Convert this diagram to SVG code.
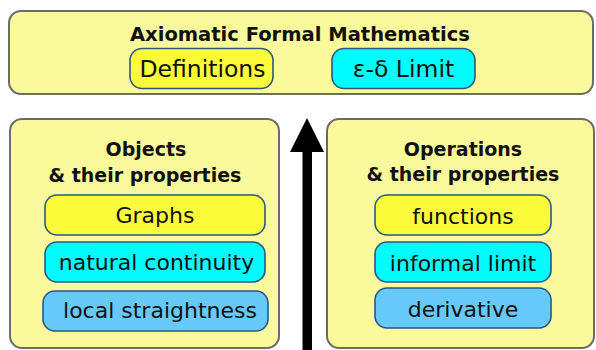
<svg xmlns="http://www.w3.org/2000/svg" width="596" height="350" viewBox="0 0 596 350">
  <style>
    .panel { fill: #FAF99B; stroke: #6B6B6B; stroke-width: 2; }
    .pill { stroke: #2A5688; stroke-width: 1.6; }
    .yellow { fill: #FCFC3A; }
    .cyan { fill: #00FCFC; }
    .blue { fill: #67C9F8; }
    .head { font-family: "DejaVu Sans", sans-serif; font-weight: bold; font-size: 19px; fill: #111; text-anchor: middle; }
    .lbl { font-family: "DejaVu Sans", sans-serif; font-size: 22px; fill: #111; text-anchor: middle; }
    .lblbig { font-family: "DejaVu Sans", sans-serif; font-size: 23.5px; fill: #111; text-anchor: middle; }
  </style>
  <rect width="596" height="350" fill="#FFFFFF"/>

  <g id="formal">
    <rect class="panel" x="9" y="11" width="584" height="83" rx="12"/>
    <text class="head" x="300" y="41" textLength="340" lengthAdjust="spacingAndGlyphs">Axiomatic Formal Mathematics</text>
  </g>
  <g id="definitions">
    <rect class="pill yellow" x="130" y="48.5" width="143" height="40" rx="12"/>
    <text class="lblbig" x="202.5" y="77">Definitions</text>
  </g>
  <g id="epsdelta">
    <rect class="pill cyan" x="332" y="48.5" width="143" height="40" rx="12"/>
    <text class="lblbig" x="403.5" y="77">ε-δ Limit</text>
  </g>

  <g id="objects">
    <rect class="panel" x="10" y="119" width="269" height="229" rx="12"/>
    <text class="head" x="146" y="156">Objects</text>
    <text class="head" x="145" y="182">&amp; their properties</text>
  </g>
  <g id="graphs">
    <rect class="pill yellow" x="45" y="195" width="220" height="40" rx="12"/>
    <text class="lbl" x="155" y="223">Graphs</text>
  </g>
  <g id="natural-continuity">
    <rect class="pill cyan" x="45" y="242" width="220" height="40" rx="12"/>
    <text class="lbl" x="156.5" y="270">natural continuity</text>
  </g>
  <g id="local-straightness">
    <rect class="pill blue" x="43" y="291" width="225" height="40" rx="12"/>
    <text class="lbl" x="160" y="318">local straightness</text>
  </g>

  <g id="operations">
    <rect class="panel" x="327" y="119" width="267" height="229" rx="12"/>
    <text class="head" x="463" y="156">Operations</text>
    <text class="head" x="463" y="181">&amp; their properties</text>
  </g>
  <g id="functions">
    <rect class="pill yellow" x="375" y="195" width="176" height="40" rx="12"/>
    <text class="lbl" x="463" y="224">functions</text>
  </g>
  <g id="informal-limit">
    <rect class="pill cyan" x="375" y="242" width="176" height="40" rx="12"/>
    <text class="lbl" x="463" y="271">informal limit</text>
  </g>
  <g id="derivative">
    <rect class="pill blue" x="375" y="288" width="176" height="40" rx="12"/>
    <text class="lbl" x="463" y="317">derivative</text>
  </g>

  <g id="connectors">
    <rect x="302.5" y="150" width="9.5" height="202" fill="#000"/>
    <path d="M307 118 L324 152 L290 152 Z" fill="#000"/>
  </g>
</svg>
